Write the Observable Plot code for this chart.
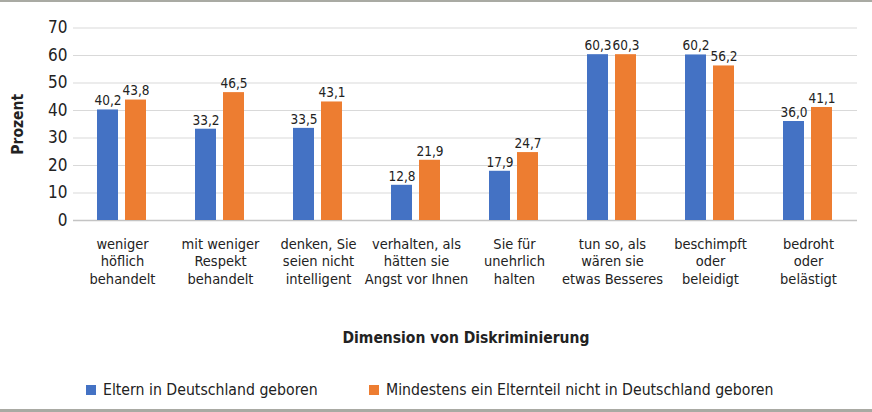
<!DOCTYPE html>
<html>
<head>
<meta charset="utf-8">
<script src="https://cdn.jsdelivr.net/npm/d3@7"></script>
<script src="https://cdn.jsdelivr.net/npm/@observablehq/plot@0.6"></script>
<style>
  html, body { margin: 0; padding: 0; background: #fff; }
  #wrap {
    position: relative; width: 872px; height: 412px; box-sizing: border-box;
    border-top: 2px solid #a9aaa3; border-bottom: 3px solid #a9aaa3;
    font-family: "DejaVu Sans Condensed", "Liberation Sans Narrow", sans-serif;
    color: #222; overflow: hidden;
  }
  #chart svg { display: block; }
  #chart g[aria-label="y-axis label"] text { font-weight: bold; }
  #xtitle { position: absolute; left: 70px; width: 792px; top: 327px; text-align: center;
    font-weight: bold; font-size: 15.5px; }
  .leg { position: absolute; top: 378px; font-size: 15.7px; white-space: nowrap; }
  .sw { display: inline-block; width: 10px; height: 10px; margin-right: 7px; vertical-align: 0px; }
</style>
</head>
<body>
<div id="wrap">
  <div id="chart"></div>
  <div id="xtitle"></div>
  <div id="legend"></div>
</div>
<script>
const categories = [
  "weniger höflich behandelt",
  "mit weniger Respekt behandelt",
  "denken, Sie seien nicht intelligent",
  "verhalten, als hätten sie Angst vor Ihnen",
  "Sie für unehrlich halten",
  "tun so, als wären sie etwas Besseres",
  "beschimpft oder beleidigt",
  "bedroht oder belästigt"
];
const categoryLabels = [
  "weniger\nhöflich\nbehandelt",
  "mit weniger\nRespekt\nbehandelt",
  "denken, Sie\nseien nicht\nintelligent",
  "verhalten, als\nhätten sie\nAngst vor Ihnen",
  "Sie für\nunehrlich\nhalten",
  "tun so, als\nwären sie\netwas Besseres",
  "beschimpft\noder\nbeleidigt",
  "bedroht\noder\nbelästigt"
];
const series = ["Eltern in Deutschland geboren", "Mindestens ein Elternteil nicht in Deutschland geboren"];
const colors = ["#4472c4", "#ed7d31"];
const valuesGermanParents = [40.2, 33.2, 33.5, 12.8, 17.9, 60.3, 60.2, 36.0];
const valuesMigrantParent = [43.8, 46.5, 43.1, 21.9, 24.7, 60.3, 56.2, 41.1];
const yTicks = [0, 10, 20, 30, 40, 50, 60, 70];
const yLabel = "Prozent";
const xLabel = "Dimension von Diskriminierung";

const data = [];
categories.forEach((c, i) => {
  data.push({cat: c, series: series[0], value: valuesGermanParents[i]});
  data.push({cat: c, series: series[1], value: valuesMigrantParent[i]});
});
const labelOf = new Map(categories.map((c, i) => [c, categoryLabels[i]]));
const fmt = v => v.toFixed(1).replace(".", ",");

const chart = Plot.plot({
  width: 872,
  height: 308,
  marginTop: 25.5,
  marginBottom: 90,
  marginLeft: 70,
  marginRight: 12,
  style: {fontFamily: '"DejaVu Sans Condensed", "Liberation Sans Narrow", sans-serif', color: "#222"},
  fx: {domain: categories, padding: 0},
  x: {domain: series, paddingInner: 0.241, paddingOuter: 0.83, axis: null},
  y: {domain: [0, 70]},
  color: {domain: series, range: colors},
  marks: [
    Plot.ruleY(yTicks.filter(d => d > 0), {stroke: "#d9d9d9", strokeWidth: 1.2}),
    Plot.ruleY([0], {stroke: "#c4c4c4", strokeWidth: 1.5}),
    Plot.barY(data, {fx: "cat", x: "series", y: "value", fill: "series"}),
    Plot.text(data, {fx: "cat", x: "series", y: "value", text: d => fmt(d.value), dy: -9, fontSize: 13.5, fill: "#222"}),
    Plot.axisY({ticks: yTicks, tickSize: 0, tickPadding: 6, fontSize: 17, label: yLabel,
      labelAnchor: "center", labelOffset: 62, labelArrow: false}),
    Plot.axisFx({anchor: "bottom", tickFormat: d => labelOf.get(d), tickSize: 0, tickPadding: 16, fontSize: 14.5,
      lineHeight: 1.2, label: null})
  ]
});
document.getElementById("chart").append(chart);
chart.querySelectorAll('g[aria-label="y-axis label"] text').forEach(t => { t.setAttribute("font-size", 15.5); });

document.getElementById("xtitle").textContent = xLabel;
const legend = document.getElementById("legend");
const legX = [86, 369];
series.forEach((s, i) => {
  const d = document.createElement("div");
  d.className = "leg";
  d.style.left = legX[i] + "px";
  d.innerHTML = `<span class="sw" style="background:${colors[i]}"></span>`;
  d.append(s);
  legend.append(d);
});
</script>
</body>
</html>
